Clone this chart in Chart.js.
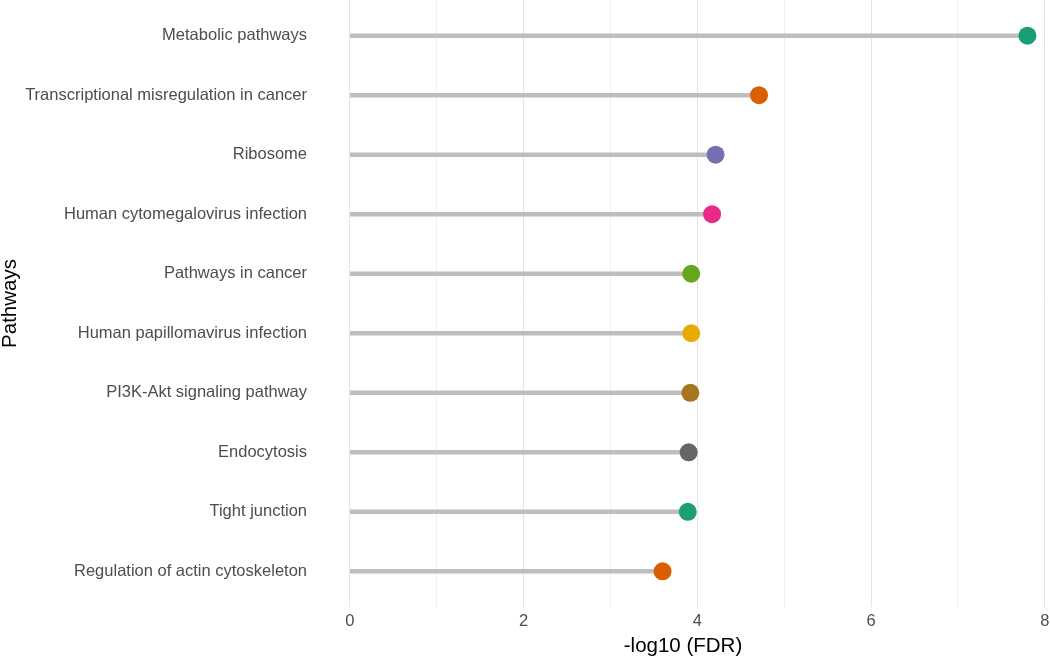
<!DOCTYPE html>
<html>
<head>
<meta charset="utf-8">
<script src="https://cdn.jsdelivr.net/npm/chart.js@4/dist/chart.umd.min.js"></script>
<style>
  html, body { margin: 0; padding: 0; background: #ffffff; }
  #wrap { width: 1050px; height: 657px; position: relative; }
</style>
</head>
<body>
<div id="wrap"><canvas id="c"></canvas></div>
<script>
const categories = [
  "Metabolic pathways",
  "Transcriptional misregulation in cancer",
  "Ribosome",
  "Human cytomegalovirus infection",
  "Pathways in cancer",
  "Human papillomavirus infection",
  "PI3K-Akt signaling pathway",
  "Endocytosis",
  "Tight junction",
  "Regulation of actin cytoskeleton"
];
const values = [7.80, 4.71, 4.21, 4.17, 3.93, 3.93, 3.92, 3.90, 3.89, 3.60];
const pointColors = ["#1B9E77", "#D95F02", "#7570B3", "#E7298A", "#66A61E",
                     "#E6AB02", "#A6761D", "#666666", "#1B9E77", "#D95F02"];
const xTickValues = [0, 1, 2, 3, 4, 5, 6, 7, 8];
const xAxisTitle = "-log10 (FDR)";
const yAxisTitle = "Pathways";

const pts = values.map((v, i) => ({ x: v, y: i }));
const FONT = "'Liberation Sans', Arial, Helvetica, sans-serif";

function zeroPad(s) {
  s.paddingTop = 0; s.paddingBottom = 0; s.paddingLeft = 0; s.paddingRight = 0;
}

new Chart(document.getElementById('c'), {
  type: 'bar',
  data: {
    datasets: [
      {
        type: 'scatter',
        data: pts,
        pointRadius: 9,
        pointHoverRadius: 9,
        pointBackgroundColor: pointColors,
        pointBorderWidth: 0,
        borderWidth: 0,
        clip: false,
        order: 0
      },
      {
        type: 'bar',
        data: pts,
        backgroundColor: '#BEBEBE',
        barThickness: 4,
        borderWidth: 0,
        order: 1
      }
    ]
  },
  options: {
    indexAxis: 'y',
    responsive: true,
    maintainAspectRatio: false,
    animation: false,
    layout: { padding: 0, autoPadding: false },
    plugins: { legend: { display: false }, tooltip: { enabled: false } },
    scales: {
      x: {
        type: 'linear',
        offset: false,
        min: -0.39,
        max: 8.06,
        afterBuildTicks: s => { s.ticks = xTickValues.map(v => ({ value: v })); },
        afterFit: s => { s.height = 50; zeroPad(s); },
        border: { display: false },
        grid: {
          offset: false,
          drawTicks: false,
          color: ctx => (ctx.tick && ctx.tick.value % 2 !== 0) ? '#EFEFEF' : '#E4E4E4',
          lineWidth: 1
        },
        ticks: {
          padding: 5,
          color: '#4D4D4D',
          font: { family: FONT, size: 16.5 },
          maxRotation: 0,
          callback: v => (v % 2 === 0 ? String(v) : '')
        },
        title: {
          display: true,
          text: xAxisTitle,
          color: '#000000',
          font: { family: FONT, size: 20.5, lineHeight: 1 },
          padding: 0
        }
      },
      y: {
        type: 'linear',
        offset: false,
        reverse: true,
        min: -0.6,
        max: categories.length - 1 + 0.6,
        afterBuildTicks: s => { s.ticks = categories.map((c, i) => ({ value: i })); },
        afterFit: s => { s.width = 316; zeroPad(s); },
        border: { display: false },
        grid: { display: false, drawTicks: false, offset: false },
        ticks: {
          padding: 9,
          color: '#4D4D4D',
          font: { family: FONT, size: 16.5 },
          autoSkip: false,
          callback: v => categories[v]
        },
        title: {
          display: true,
          text: yAxisTitle,
          color: '#000000',
          font: { family: FONT, size: 20.5, lineHeight: 1 },
          padding: 0
        }
      }
    }
  }
});
</script>
</body>
</html>
